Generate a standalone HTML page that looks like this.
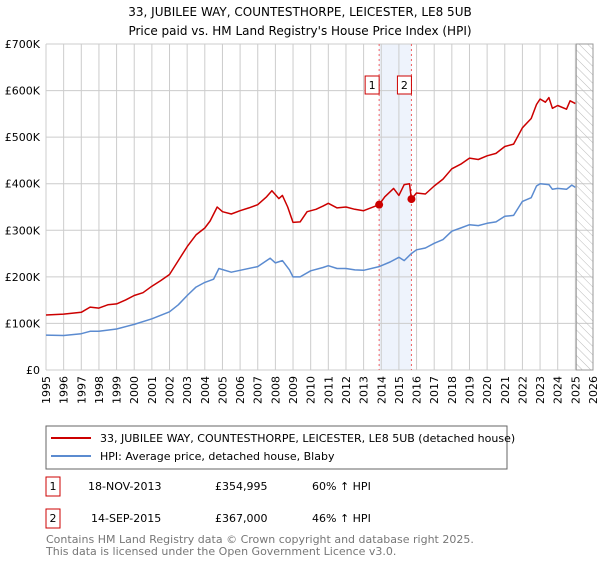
<!DOCTYPE html>
<html><head><meta charset="utf-8"><style>
body{margin:0;background:#fff;font-family:"DejaVu Sans","Liberation Sans",sans-serif;}
svg text{font-family:"DejaVu Sans","Liberation Sans",sans-serif;}
</style></head><body>
<svg id="chart" width="600" height="560" xmlns="http://www.w3.org/2000/svg">
<defs><pattern id="hatch" width="6" height="6" patternUnits="userSpaceOnUse" patternTransform="rotate(-45)"><line x1="0" y1="0" x2="0" y2="6" stroke="#bbb" stroke-width="1"/></pattern></defs>
<text x="300" y="16" text-anchor="middle" font-size="12">33, JUBILEE WAY, COUNTESTHORPE, LEICESTER, LE8 5UB</text>
<text x="300" y="35" text-anchor="middle" font-size="12">Price paid vs. HM Land Registry's House Price Index (HPI)</text>
<g id="grid"></g><g id="marks"></g><g id="axes"></g>
<rect x="46" y="426" width="461" height="43" fill="#fff" stroke="#666"/>
<line x1="51" y1="438" x2="91" y2="438" stroke="#cc0000" stroke-width="2"/>
<text x="100" y="442" font-size="11">33, JUBILEE WAY, COUNTESTHORPE, LEICESTER, LE8 5UB (detached house)</text>
<line x1="51" y1="456" x2="91" y2="456" stroke="#5b8bd0" stroke-width="2"/>
<text x="100" y="460" font-size="11">HPI: Average price, detached house, Blaby</text>
<g>
<rect x="46" y="477" width="14" height="19" fill="#fff" stroke="#cc0000"/>
<text x="53" y="490" text-anchor="middle" font-size="11">1</text>
<text x="88" y="490" font-size="11">18-NOV-2013</text>
<text x="215" y="490" font-size="11">£354,995</text>
<text x="312" y="490" font-size="11">60% ↑ HPI</text></g>
<g>
<rect x="46" y="509" width="14" height="19" fill="#fff" stroke="#cc0000"/>
<text x="53" y="522" text-anchor="middle" font-size="11">2</text>
<text x="91" y="522" font-size="11">14-SEP-2015</text>
<text x="215" y="522" font-size="11">£367,000</text>
<text x="312" y="522" font-size="11">46% ↑ HPI</text></g>
<text x="46" y="543" font-size="11" fill="#777">Contains HM Land Registry data © Crown copyright and database right 2025.</text>
<text x="46" y="555" font-size="11" fill="#777">This data is licensed under the Open Government Licence v3.0.</text>
</svg>
<script>
const yTickValues=[0,100000,200000,300000,400000,500000,600000,700000];
const yTickLabels=["£0","£100K","£200K","£300K","£400K","£500K","£600K","£700K"];
const years=[1995,1996,1997,1998,1999,2000,2001,2002,2003,2004,2005,2006,2007,2008,2009,2010,2011,2012,2013,2014,2015,2016,2017,2018,2019,2020,2021,2022,2023,2024,2025,2026];
const propT=[1995,1996,1997,1997.5,1998,1998.5,1999,1999.5,2000,2000.5,2001,2001.5,2002,2002.5,2003,2003.5,2004,2004.3,2004.7,2005,2005.5,2006,2006.5,2007,2007.5,2007.8,2008.2,2008.4,2008.7,2009,2009.4,2009.8,2010.3,2010.7,2011,2011.5,2012,2012.5,2013,2013.88,2014.2,2014.7,2015,2015.3,2015.6,2015.71,2016,2016.5,2017,2017.5,2018,2018.5,2019,2019.5,2020,2020.5,2021,2021.5,2022,2022.5,2022.8,2023,2023.3,2023.5,2023.7,2024,2024.5,2024.7,2025];
const propV=[118,120,124,135,133,140,142,150,160,166,180,192,205,235,265,290,305,320,350,340,335,342,348,355,372,385,368,375,350,317,318,340,345,352,358,348,350,345,342,355,372,390,375,398,400,367,380,378,395,410,432,442,455,452,460,465,480,485,520,540,570,582,575,585,562,568,560,578,572];
const hpiT=[1995,1996,1997,1997.5,1998,1999,2000,2001,2002,2002.5,2003,2003.5,2004,2004.5,2004.8,2005.5,2006,2007,2007.7,2008,2008.4,2008.8,2009,2009.4,2010,2010.7,2011,2011.5,2012,2012.5,2013,2013.88,2014.5,2015,2015.3,2015.7,2016,2016.5,2017,2017.5,2018,2018.5,2019,2019.5,2020,2020.5,2021,2021.5,2022,2022.5,2022.8,2023,2023.5,2023.7,2024,2024.5,2024.8,2025];
const hpiV=[75,74,78,83,83,88,98,110,125,140,160,178,188,195,218,210,214,222,240,230,235,215,200,200,213,220,224,218,218,215,214,222,232,242,235,250,258,262,272,280,298,305,312,310,315,318,330,332,362,370,395,400,398,388,390,388,397,392];
const saleT=[2013.88,2015.71];
const saleV=[354995,367000];
const saleLabels=["1","2"];

const NS="http://www.w3.org/2000/svg";
const X0=46,X1=593,Y0=370,Y1=44;
const x=t=>X0+(t-1995)/(2026-1995)*(X1-X0);
const y=v=>Y0-v/700000*(Y0-Y1);
function mk(p,tag,a){const e=document.createElementNS(NS,tag);for(const k in a)e.setAttribute(k,a[k]);p.appendChild(e);return e;}
const grid=document.getElementById('grid'),marks=document.getElementById('marks'),axes=document.getElementById('axes');
// shaded band
const band=mk(grid,'rect',{x:x(saleT[0]),y:Y1,width:x(saleT[1])-x(saleT[0]),height:Y0-Y1,fill:'#eef3fc'});


years.forEach(yr=>{const l=mk(grid,'line',{x1:x(yr),x2:x(yr),y1:Y1,y2:Y0,stroke:'#ccc'});


const t=mk(axes,'text',{x:0,y:0,'font-size':11,'text-anchor':'end',transform:`translate(${x(yr)+4},376) rotate(-90)`});t.textContent=yr;

});
yTickValues.forEach((v,i)=>{const l=mk(grid,'line',{x1:X0,x2:X1,y1:y(v),y2:y(v),stroke:'#ccc'});


const t=mk(axes,'text',{x:40,y:y(v)+4,'font-size':11,'text-anchor':'end'});t.textContent=yTickLabels[i];

});
const h=mk(grid,'rect',{x:x(2025.05),y:Y1,width:X1-x(2025.05),height:Y0-Y1,fill:'url(#hatch)',stroke:'#999'});


saleT.forEach((t,i)=>{const l=mk(grid,'line',{x1:x(t),x2:x(t),y1:Y1,y2:Y0,stroke:'#f06060','stroke-dasharray':'2,3'});


const r=mk(marks,'rect',{x:x(t)-14,y:76,width:14,height:18,fill:'#fff',stroke:'#cc0000'});


const tx=mk(marks,'text',{x:x(t)-7,y:89,'font-size':11,'text-anchor':'middle'});tx.textContent=saleLabels[i];

});
function line(T,V,c,name){const d=T.map((t,i)=>(i?'L':'M')+x(t).toFixed(1)+','+y(V[i]*1000).toFixed(1)).join('');
const p=mk(marks,'path',{d,fill:'none',stroke:c,'stroke-width':1.5,'stroke-linejoin':'round'});

}
line(hpiT,hpiV,'#5b8bd0','hpi-line');
line(propT,propV,'#cc0000','property-line');
saleT.forEach((t,i)=>{const c=mk(marks,'circle',{cx:x(t),cy:y(saleV[i]),r:4,fill:'#cc0000'});

});
</script>
</body></html>
